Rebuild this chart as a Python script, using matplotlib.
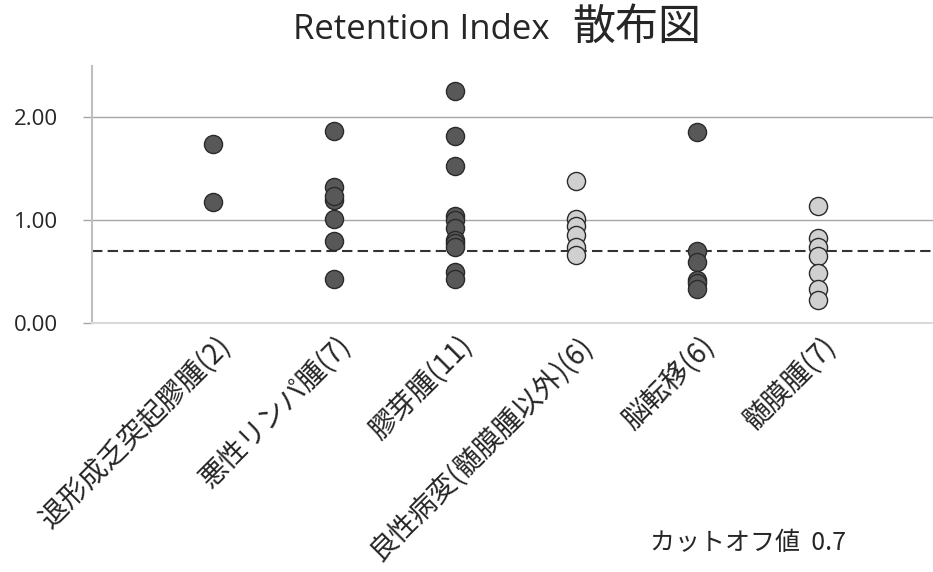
import numpy as np
import matplotlib.pyplot as plt
from matplotlib.transforms import ScaledTranslation

plt.rcParams['font.family'] = ['Noto Sans CJK JP', 'DejaVu Sans']

# カテゴリと各群の Retention Index
categories = ["退形成乏突起膠腫(2)", "悪性リンパ腫(7)", "膠芽腫(11)",
              "良性病変(髄膜腫以外)(6)", "脳転移(6)", "髄膜腫(7)"]
ri_values = [
    [1.74, 1.18],
    [1.87, 1.32, 1.20, 1.24, 1.01, 0.80, 0.43],
    [2.26, 1.82, 1.53, 1.04, 1.00, 0.92, 0.81, 0.78, 0.74, 0.50, 0.43],
    [1.385, 1.01, 0.94, 0.86, 0.74, 0.66],
    [1.86, 0.70, 0.59, 0.42, 0.39, 0.33],
    [1.14, 0.83, 0.74, 0.65, 0.49, 0.33, 0.22],
]
is_benign = [False, False, False, True, False, True]
cutoff = 0.7
y_ticks = [0.0, 1.0, 2.0]

fig = plt.figure(figsize=(9.33, 5.72), dpi=100)
ax = fig.add_axes([92 / 933, 1 - 323 / 572, 1 - 92 / 933, (323 - 66) / 572])

for i, vals in enumerate(ri_values):
    face = "#d0d0d0" if is_benign[i] else "#585858"
    ax.scatter(np.full(len(vals), i + 1), vals, s=170, c=face,
               edgecolors="#2a2a2a", linewidths=1.0, zorder=3)

ax.axhline(cutoff, color="#333333", lw=1.5, ls=(0, (5, 2.5)), zorder=2)

ax.set_xlim(0, 6.95)
ax.set_ylim(0, 2.5)
ax.set_yticks(y_ticks)
ax.set_yticklabels([f"{v:.2f}" for v in y_ticks], family="Open Sans", fontsize=16,
                   color="#262626")
ax.yaxis.grid(True, color="#a6a6a6", lw=1.0)
ax.set_axisbelow(True)
ax.tick_params(axis="y", length=6.5, width=1.0, color="#a6a6a6", pad=18)

ax.set_xticks(np.arange(1, len(categories) + 1))
ax.set_xticklabels(categories, rotation=45, ha="right", rotation_mode="anchor",
                   fontsize=20, color="#262626")
ax.tick_params(axis="x", length=0, pad=6)
shift = ScaledTranslation(2 / 72, 0, fig.dpi_scale_trans)
for lbl in ax.get_xticklabels():
    lbl.set_transform(lbl.get_transform() + shift)

for side in ["top", "right"]:
    ax.spines[side].set_visible(False)
ax.spines["left"].set_color("#bfbfbf")
ax.spines["left"].set_linewidth(1.5)
ax.spines["bottom"].set_color("#d9d9d9")
ax.spines["bottom"].set_linewidth(1.5)

fig.text(550 / 933, 1 - 39 / 572, "Retention Index", family="Open Sans", fontsize=25,
         ha="right", va="baseline", color="#262626")
fig.text(572 / 933, 1 - 40 / 572, "散布図", fontsize=31,
         ha="left", va="baseline", color="#262626")
fig.text(650 / 933, 1 - 543 / 572, "カットオフ値  0.7", fontsize=18,
         ha="left", va="center", color="#262626")

fig.savefig("out.png", dpi=100)
